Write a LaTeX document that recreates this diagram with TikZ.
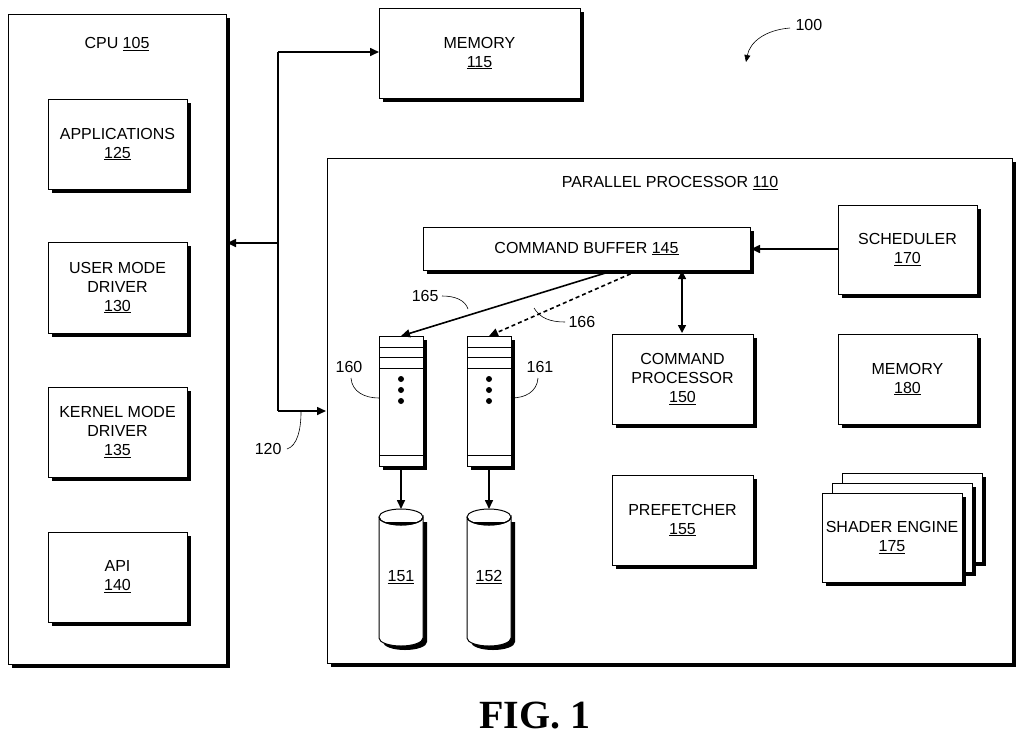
\documentclass[tikz,border=0pt]{standalone}
\usepackage{fontspec}
\setmainfont{Liberation Sans}
\newfontfamily\figfont{Liberation Serif}
\usetikzlibrary{arrows.meta}
\tikzset{
  box/.style={draw,line width=1pt,fill=white},
  lbl/.style={font=\fontsize{16}{19}\selectfont,align=center},
  arr/.style={line width=1.6pt,-{Triangle[length=9pt,width=8pt]}},
  lead/.style={line width=0.6pt},
}
\newcommand{\shbox}[5]{% name, x1,y1,x2,y2
  \fill (#2+4,#3+4) rectangle (#4+4,#5+4);
  \draw[box] (#2,#3) rectangle (#4,#5);
  \coordinate (#1) at ({(#2+#4)/2},{(#3+#5)/2});}
\begin{document}
\begin{tikzpicture}[x=1pt,y=-1pt]
\useasboundingbox (0,0) rectangle (1024,740);
% CPU
\shbox{cpu}{8}{14}{226}{664}
\node[lbl] at (117,44) {CPU \underline{105}};
\shbox{app}{48}{99}{187}{189}
\node[lbl] at (app) {APPLICATIONS\\\underline{125}};
\shbox{umd}{48}{242}{187}{333}
\node[lbl] at (umd) {USER MODE\\DRIVER\\\underline{130}};
\shbox{kmd}{48}{387}{187}{477}
\node[lbl] at (kmd) {KERNEL MODE\\DRIVER\\\underline{135}};
\shbox{api}{48}{532}{187}{622}
\node[lbl] at (api) {API\\\underline{140}};
% memory
\shbox{mem}{379}{8}{580}{98}
\node[lbl] at (mem) {MEMORY\\\underline{115}};
% parallel processor
\shbox{pp}{327}{158}{1012}{663}
\node[lbl] at (670,183) {PARALLEL PROCESSOR \underline{110}};
\shbox{cb}{423}{227}{750}{270}
\node[lbl] at (cb) {COMMAND BUFFER \underline{145}};
\shbox{sch}{838}{205}{977}{294}
\node[lbl] at (sch) {SCHEDULER\\\underline{170}};
\shbox{cp}{612}{334}{753}{424}
\node[lbl] at (cp) {COMMAND\\PROCESSOR\\\underline{150}};
\shbox{m180}{838}{334}{977}{424}
\node[lbl] at (m180) {MEMORY\\\underline{180}};
\shbox{pf}{612}{475}{753}{565}
\node[lbl] at (pf) {PREFETCHER\\\underline{155}};
\shbox{se3}{842}{473}{982}{562}
\shbox{se2}{832}{483}{972}{572}
\shbox{se}{822}{493}{962}{582}
\node[lbl] at (se) {SHADER ENGINE\\\underline{175}};
% queues
\foreach \n/\x in {q160/379,q161/467}{
  \shbox{\n}{\x}{336}{\x+44}{466}
  \foreach \yy in {347,357,368,455} \draw[line width=1pt] (\x,\yy) -- (\x+44,\yy);
  \foreach \yy in {379,390,401} \fill (\x+22,\yy) circle (3);
}
% cylinders
\foreach \n/\x/\t in {c151/379/151,c152/467/152}{
  \fill (\x+4,522) -- (\x+48,522) -- (\x+48,642) arc (0:180:22 and 8) -- cycle;
  \draw[box] (\x,517) -- (\x,638) arc (180:0:22 and 8) -- (\x+44,517) arc (0:360:22 and 8);
  \draw[line width=1pt] (\x,517) arc (180:0:22 and 8);
  \coordinate (\n) at (\x+22,509);
  \node[lbl] at (\x+22,577) {\underline{\t}};
}
% connectors
\coordinate (bt) at (278,52);
\coordinate (bb) at (278,411);
\draw[line width=1.6pt] (bt) -- (bb);
\draw[arr] (bt) -- (379,52);
\draw[arr] (278,243) -- (227,243);
\draw[arr] (bb) -- (326,411);
\draw[arr] (838,249) -- (751,249);
\draw[line width=1.6pt,{Triangle[length=8pt,width=8pt]}-{Triangle[length=8pt,width=8pt]}] (682,271) -- (682,333);
\draw[arr] (612,271) -- (401,336);
\draw[arr,dash pattern=on 4pt off 3pt] (637,271) -- (489,336);
\draw[arr] (401,466) -- (401,509);
\draw[arr] (489,466) -- (489,509);
% leaders
\node[lbl,anchor=east] (l165) at (442,296) {165};
\draw[lead] (l165.east) .. controls (455,296) and (465,300) .. (468,309);
\node[lbl,anchor=west] (l166) at (565,322) {166};
\draw[lead] (l166.west) .. controls (550,322) and (540,318) .. (534,308);
\node[lbl] (l160) at (349,367) {160};
\draw[lead] (351,378) .. controls (352,392) and (365,398) .. (379,398);
\node[lbl] (l161) at (540,367) {161};
\draw[lead] (538,378) .. controls (537,392) and (525,398) .. (511,398);
\node[lbl,anchor=east] (l120) at (285,449) {120};
\draw[lead] (287,449) .. controls (297,446) and (301,430) .. (301,412);
\node[lbl,anchor=west] (l100) at (792,25) {100};
\draw[lead,-{Triangle[length=7pt,width=6pt]}] (790,28) .. controls (765,30) and (750,42) .. (746,62);
\node[font=\figfont\bfseries\fontsize{40}{44}\selectfont] at (535,716) {FIG. 1};
\end{tikzpicture}
\end{document}
